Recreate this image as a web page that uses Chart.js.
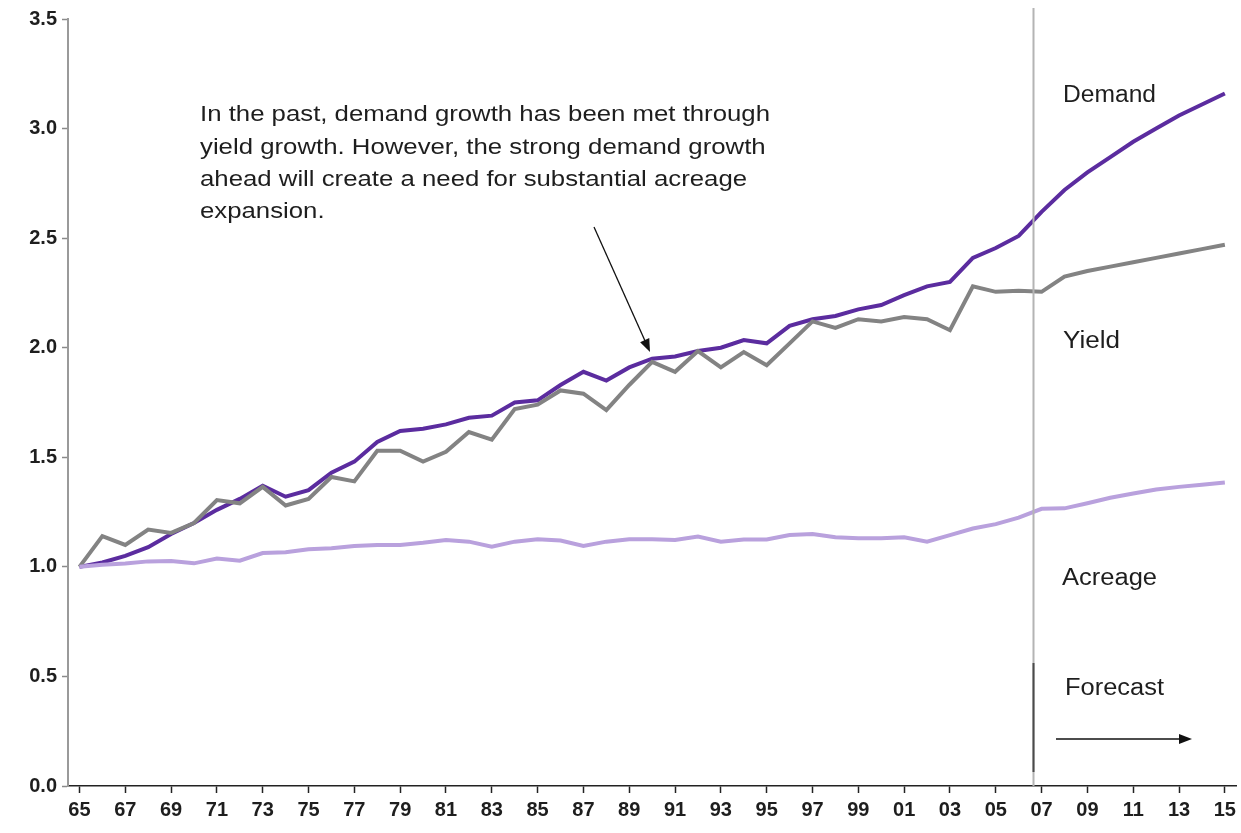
<!DOCTYPE html>
<html>
<head>
<meta charset="utf-8">
<script src="https://cdn.jsdelivr.net/npm/chart.js@4.4.0/dist/chart.umd.min.js"></script>
<style>
html,body{margin:0;padding:0;background:#ffffff;}
#wrap{width:1241px;height:833px;position:relative;}
</style>
</head>
<body>
<div id="wrap"><canvas id="c" width="1241" height="833"></canvas></div>
<script>
const years = ['65','66','67','68','69','70','71','72','73','74','75','76','77','78','79','80','81','82','83','84','85','86','87','88','89','90','91','92','93','94','95','96','97','98','99','00','01','02','03','04','05','06','07','08','09','10','11','12','13','14','15'];

const demand = [1.00,1.02,1.05,1.09,1.15,1.20,1.26,1.31,1.37,1.32,1.35,1.43,1.48,1.57,1.62,1.63,1.65,1.68,1.69,1.75,1.76,1.83,1.89,1.85,1.91,1.95,1.96,1.985,2.00,2.035,2.02,2.10,2.13,2.145,2.175,2.195,2.24,2.28,2.30,2.41,2.455,2.51,2.62,2.72,2.80,2.87,2.94,3.00,3.06,3.11,3.16];

const yieldIdx = [1.00,1.14,1.10,1.17,1.155,1.20,1.305,1.29,1.365,1.28,1.31,1.41,1.39,1.53,1.53,1.48,1.525,1.615,1.58,1.72,1.74,1.805,1.79,1.715,1.83,1.935,1.89,1.985,1.91,1.98,1.92,2.02,2.12,2.09,2.13,2.12,2.14,2.13,2.08,2.28,2.255,2.26,2.255,2.325,2.35,2.37,2.39,2.41,2.43,2.45,2.47];

const acreage = [1.00,1.01,1.015,1.025,1.027,1.016,1.038,1.028,1.063,1.067,1.08,1.085,1.095,1.10,1.10,1.11,1.123,1.115,1.092,1.115,1.126,1.12,1.095,1.115,1.126,1.126,1.123,1.138,1.115,1.125,1.125,1.145,1.15,1.135,1.13,1.13,1.135,1.115,1.145,1.175,1.195,1.225,1.265,1.267,1.29,1.315,1.335,1.353,1.365,1.375,1.385];

const yTicks = [0,0.5,1.0,1.5,2.0,2.5,3.0,3.5];

const noteLines = [
  'In the past, demand growth has been met through',
  'yield growth. However, the strong demand growth',
  'ahead will create a need for substantial acreage',
  'expansion.'
];

const TEXT_FONT = '"Liberation Sans", Arial, sans-serif';

function stretchText(ctx, text, x, y, size, targetW) {
  ctx.font = size + 'px ' + TEXT_FONT;
  const w = ctx.measureText(text).width;
  const s = targetW / w;
  ctx.save();
  ctx.translate(x, y);
  ctx.scale(s, 1);
  ctx.fillText(text, 0, 0);
  ctx.restore();
  return s;
}

function arrow(ctx, x1, y1, x2, y2, head, hw) {
  const a = Math.atan2(y2 - y1, x2 - x1);
  ctx.beginPath();
  ctx.moveTo(x1, y1);
  ctx.lineTo(x2 - Math.cos(a) * head * 0.8, y2 - Math.sin(a) * head * 0.8);
  ctx.stroke();
  ctx.beginPath();
  ctx.moveTo(x2, y2);
  ctx.lineTo(x2 - Math.cos(a) * head + Math.sin(a) * hw, y2 - Math.sin(a) * head - Math.cos(a) * hw);
  ctx.lineTo(x2 - Math.cos(a) * head - Math.sin(a) * hw, y2 - Math.sin(a) * head + Math.cos(a) * hw);
  ctx.closePath();
  ctx.fill();
}

const overlay = {
  id: 'overlay',
  afterDatasetsDraw(chart) {
    const ctx = chart.ctx;
    const xs = chart.scales.x;
    const ys = chart.scales.y;
    const vx = Math.round(xs.getPixelForValue(41.62)) + 0.5;
    const bottom = ys.getPixelForValue(0);
    ctx.save();
    // forecast divider
    ctx.lineWidth = 2;
    ctx.strokeStyle = '#b4b4b4';
    ctx.beginPath();
    ctx.moveTo(vx, 8);
    ctx.lineTo(vx, bottom);
    ctx.stroke();
    ctx.strokeStyle = '#4a4a4a';
    ctx.beginPath();
    ctx.moveTo(vx, 663);
    ctx.lineTo(vx, 772);
    ctx.stroke();

    ctx.fillStyle = '#1e1e1e';
    ctx.textBaseline = 'alphabetic';
    ctx.textAlign = 'left';
    // note
    ctx.font = '22px ' + TEXT_FONT;
    const s = 570 / ctx.measureText(noteLines[0]).width;
    const baselines = [121, 154, 186, 218];
    noteLines.forEach((t, i) => {
      ctx.save();
      ctx.translate(200, baselines[i]);
      ctx.scale(s, 1);
      ctx.fillText(t, 0, 0);
      ctx.restore();
    });
    // series labels
    stretchText(ctx, 'Demand', 1063, 102, 23, 93);
    stretchText(ctx, 'Yield', 1063, 348, 23, 57);
    stretchText(ctx, 'Acreage', 1062, 585, 23, 95);
    stretchText(ctx, 'Forecast', 1065, 695, 23, 99);

    // arrows
    ctx.strokeStyle = '#111';
    ctx.fillStyle = '#111';
    ctx.lineWidth = 1.3;
    arrow(ctx, 594, 227, 650, 352, 13, 5);
    ctx.lineWidth = 1.6;
    arrow(ctx, 1056, 739, 1192, 739, 13, 5);
    ctx.restore();
  }
};

const tickFont = { family: '"Liberation Sans", Arial, sans-serif', weight: 'bold', size: 20 };

new Chart(document.getElementById('c'), {
  type: 'line',
  data: {
    labels: years,
    datasets: [
      { label: 'Acreage', data: acreage, borderColor: '#b9a1dd', borderWidth: 4, pointRadius: 0, tension: 0, fill: false },
      { label: 'Yield', data: yieldIdx, borderColor: '#838383', borderWidth: 4, pointRadius: 0, tension: 0, fill: false },
      { label: 'Demand', data: demand, borderColor: '#5b2c9f', borderWidth: 4, pointRadius: 0, tension: 0, fill: false }
    ]
  },
  options: {
    responsive: false,
    animation: false,
    devicePixelRatio: 1,
    layout: { padding: { top: 19, right: 3, left: 0, bottom: 0 } },
    plugins: { legend: { display: false }, tooltip: { enabled: false } },
    scales: {
      x: {
        type: 'category',
        offset: true,
        grid: {
          offset: false,
          drawOnChartArea: false,
          drawTicks: true,
          tickLength: 7,
          tickWidth: 1.5,
          tickColor: (c) => (c.index % 2 === 0 ? '#222' : 'rgba(0,0,0,0)')
        },
        border: { color: '#222', width: 1.5 },
        ticks: {
          autoSkip: false,
          maxRotation: 0,
          minRotation: 0,
          padding: 5,
          color: '#1e1e1e',
          font: tickFont,
          callback: (v, i) => (i % 2 === 0 ? years[i] : '')
        },
        afterFit: (sc) => { sc.height = 47; }
      },
      y: {
        min: 0,
        max: 3.5,
        afterBuildTicks: (sc) => { sc.ticks = yTicks.map(v => ({ value: v })); },
        grid: {
          drawOnChartArea: false,
          drawTicks: true,
          tickLength: 6,
          tickWidth: 1.5,
          tickColor: '#8a8a8a'
        },
        border: { color: '#9a9a9a', width: 2 },
        ticks: {
          padding: 5,
          color: '#1e1e1e',
          font: tickFont,
          callback: (v) => Number(v).toFixed(1)
        },
        afterFit: (sc) => { sc.width = 68; }
      }
    }
  },
  plugins: [overlay]
});
</script>
</body>
</html>
